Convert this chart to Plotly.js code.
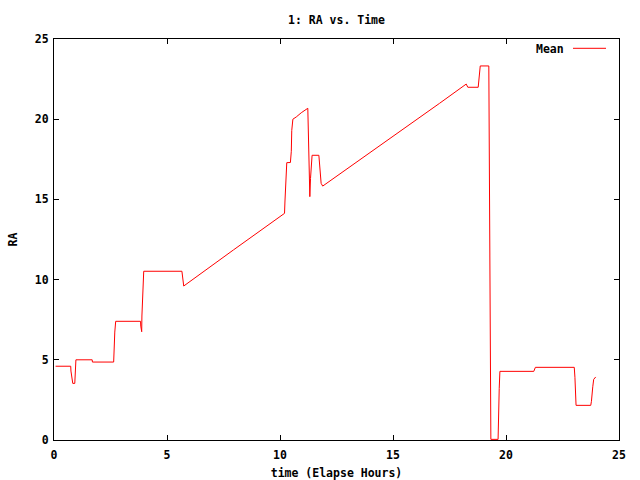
<!DOCTYPE html>
<html>
<head>
<meta charset="utf-8">
<script src="https://cdn.plot.ly/plotly-3.0.1.min.js"></script>
<style>html,body{margin:0;padding:0;background:#fff;}#chart{width:640px;height:480px;}</style>
</head>
<body>
<div id="chart"></div>
<script>
// Elapsed time (hours)
var timeHours = [0.07, 0.74, 0.75, 0.79, 0.83, 0.92, 0.93, 0.97, 1.69, 1.70,
  2.64, 2.65, 2.69, 2.73, 3.83, 3.84, 3.88, 3.89, 3.93, 3.97,
  5.66, 5.69, 5.74, 7.94, 10.20, 10.22, 10.25, 10.30, 10.46, 10.50,
  10.52, 10.57, 10.72, 10.94, 11.23, 11.26, 11.32, 11.35, 11.39, 11.42,
  11.72, 11.75, 11.79, 11.82, 11.89, 13.52, 17.06, 18.24, 18.31, 18.77,
  18.80, 18.84, 18.86, 19.24, 19.27, 19.30, 19.33, 19.65, 19.66, 19.70,
  19.73, 21.23, 21.30, 23.02, 23.05, 23.08, 23.10, 23.75, 23.78, 23.84,
  23.88, 23.97];
// Mean RA
var meanRA = [4.60, 4.60, 4.30, 3.82, 3.53, 3.53, 4.26, 5.00, 5.00, 4.86,
  4.86, 5.50, 6.73, 7.40, 7.40, 7.10, 6.75, 7.73, 9.60, 10.52,
  10.52, 9.97, 9.60, 11.85, 14.13, 14.90, 16.40, 17.29, 17.30, 18.00,
  19.30, 20.00, 20.14, 20.40, 20.68, 19.30, 15.17, 16.30, 17.04, 17.75,
  17.75, 17.35, 16.50, 16.00, 15.83, 17.44, 20.99, 22.19, 21.99, 21.99,
  22.34, 22.96, 23.32, 23.32, 17.46, 5.88, 0.04, 0.04, 1.14, 3.22,
  4.28, 4.28, 4.53, 4.53, 3.91, 2.74, 2.16, 2.16, 2.41, 3.32,
  3.78, 3.93];
var xTicks = [0, 5, 10, 15, 20, 25];
var yTicks = [0, 5, 10, 15, 20, 25];
var seriesName = 'Mean';

var FONT = {family: 'DejaVu Sans Mono, monospace', size: 11.5, color: '#000', weight: 'bold'};

var trace = {
  x: timeHours, y: meanRA, type: 'scatter', mode: 'lines', name: seriesName,
  line: {color: '#ff0000', width: 1}, showlegend: false
};

function axis(ticks, title, standoff, labelGap) {
  return {
    range: [0, 25], tickmode: 'array', tickvals: ticks, ticktext: ticks.map(String),
    showline: true, linecolor: '#000', linewidth: 1, mirror: 'ticks',
    ticks: 'inside', ticklen: 5, tickcolor: '#000', tickwidth: 1,
    ticklabelstandoff: labelGap,
    showgrid: false, zeroline: false, tickfont: FONT,
    title: {text: title, font: FONT, standoff: standoff}
  };
}

var xa = axis(xTicks, 'time (Elapse Hours)', 9, 4);
var ya = axis(yTicks, 'RA', 14, 2);

var layout = {
  width: 640, height: 480,
  margin: {l: 54, r: 21, t: 39, b: 40, pad: 0},
  paper_bgcolor: '#fff', plot_bgcolor: '#fff',
  font: FONT,
  title: {text: '1: RA vs. Time', font: FONT, x: 0.5, xref: 'paper', y: 1 - 19.5/480, yref: 'container', yanchor: 'middle'},
  xaxis: xa, yaxis: ya,
  showlegend: false,
  annotations: [{text: seriesName, xref: 'paper', yref: 'paper', x: (566 - 54) / 565, y: (440 - 49) / 401,
    xanchor: 'right', yanchor: 'middle', showarrow: false, font: FONT}],
  shapes: [{type: 'line', xref: 'paper', yref: 'paper', x0: (573 - 54) / 565, x1: (606 - 54) / 565,
    y0: (440 - 48.3) / 401, y1: (440 - 48.3) / 401, line: {color: '#ff0000', width: 1}}]
};

Plotly.newPlot('chart', [trace], layout, {staticPlot: true, displayModeBar: false});
</script>
</body>
</html>
